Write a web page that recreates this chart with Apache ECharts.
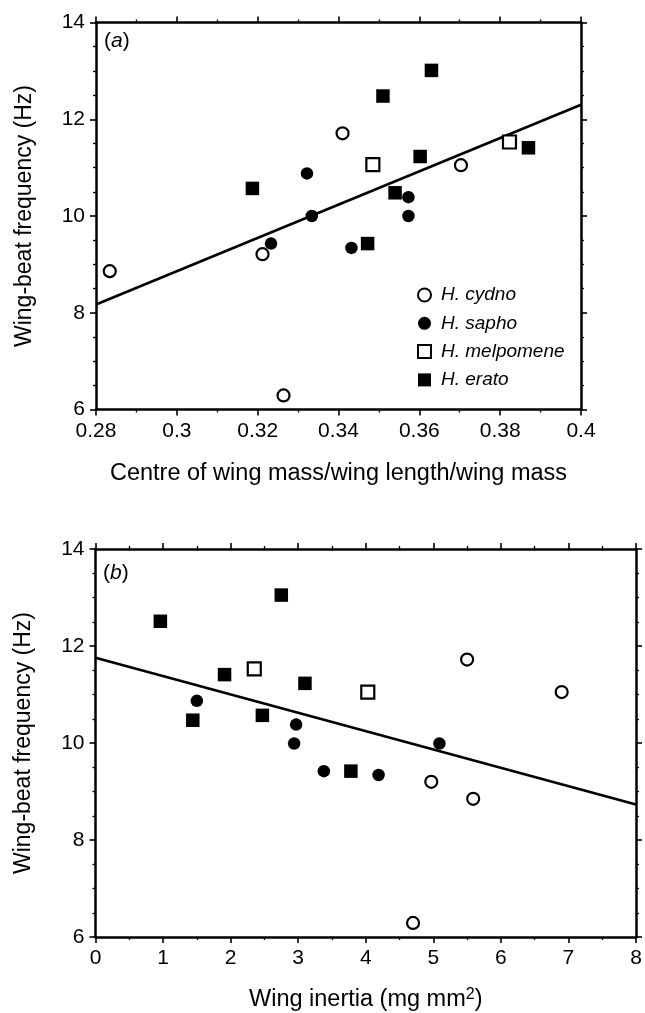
<!DOCTYPE html>
<html>
<head>
<meta charset="utf-8">
<script src="https://cdn.jsdelivr.net/npm/echarts@6/dist/echarts.min.js"></script>
<style>
html,body{margin:0;padding:0;background:#fff;}
#chart{width:645px;height:1013px;}
</style>
</head>
<body>
<div id="chart"></div>
<script>
// ---- Panel (a): centre of wing mass / wing length / wing mass ----
const cydnoA = [[0.2834,8.86],[0.3212,9.21],[0.341,11.71],[0.3703,11.05],[0.3264,6.29]];
const saphoA = [[0.3322,10.88],[0.3334,10.0],[0.3233,9.43],[0.3432,9.34],[0.3573,10.39],[0.3573,10.0]];
const melpomeneA = [[0.3485,11.06],[0.3823,11.53]];
const eratoA = [[0.3187,10.57],[0.351,12.48],[0.363,13.01],[0.3602,11.23],[0.354,10.48],[0.3472,9.43],[0.387,11.41]];
const fitA = [[0.28,8.17],[0.4,12.3]];

// ---- Panel (b): wing inertia ----
const cydnoB = [[5.5,11.72],[6.9,11.05],[4.97,9.2],[5.59,8.85],[4.7,6.29]];
const saphoB = [[1.5,10.87],[2.97,10.38],[2.94,9.99],[3.38,9.42],[4.19,9.34],[5.09,9.99]];
const melpomeneB = [[2.35,11.53],[4.03,11.05]];
const eratoB = [[0.96,12.51],[2.75,13.05],[1.91,11.41],[3.1,11.23],[1.44,10.47],[2.47,10.57],[3.78,9.42]];
const fitB = [[0,11.76],[8,8.73]];

const speciesNames = ['H. cydno','H. sapho','H. melpomene','H. erato'];
const xRangeA = [0.28, 0.4, 0.02];
const xRangeB = [0, 8, 1];
const yRange = [6, 14, 2];
const xTitleA = 'Centre of wing mass/wing length/wing mass';
const xTitleB = 'Wing inertia (mg mm{sup|2})';
const yTitle = 'Wing-beat frequency (Hz)';

const FONT = '"Liberation Sans", Arial, Helvetica, sans-serif';
const lineBlack = {color:'#000', width:2.5};

function axisCommon(showLabels){
  return {
    splitLine:{show:false},
    axisLine:{show:true, onZero:false, lineStyle:lineBlack},
    axisTick:{show:true, inside:false, length:6, lineStyle:{color:'#000', width:1.6}},
    minorTick:{show:true, length:3, lineStyle:{color:'#000', width:1.3}},
    axisLabel:{show:showLabels, color:'#000', fontSize:21, fontFamily:FONT, margin:11},
  };
}
function xAx(grid, r, pos, labels, minorSplit, name, nameGap){
  const a = Object.assign(axisCommon(labels), {
    type:'value', gridIndex:grid, position:pos, min:r[0], max:r[1], interval:r[2]
  });
  a.minorTick.splitNumber = minorSplit;
  if(name){
    a.name = name; a.nameLocation='middle'; a.nameGap=nameGap;
    a.nameTextStyle = {color:'#000', fontSize:23.5, fontFamily:FONT,
      rich:{sup:{fontSize:16, fontFamily:FONT, color:'#000', verticalAlign:'top', padding:[0,0,9,0]}}};
  }
  return a;
}
function yAx(grid, pos, labels, name){
  const a = Object.assign(axisCommon(labels), {
    type:'value', gridIndex:grid, position:pos, min:yRange[0], max:yRange[1], interval:yRange[2]
  });
  a.minorTick.splitNumber = 4;
  if(name){
    a.name = name; a.nameLocation='middle'; a.nameGap=60; a.nameRotate=90;
    a.nameTextStyle = {color:'#000', fontSize:23, fontFamily:FONT};
  }
  return a;
}

const hollow = {color:'#fff', borderColor:'#000', borderWidth:2.2, opacity:1};
const solid = {color:'#000', borderColor:'#000', borderWidth:0, opacity:1};
function sc(name, data, xi, yi, symbol, size, style){
  return {name, type:'scatter', data, xAxisIndex:xi, yAxisIndex:yi, symbol, symbolSize:size,
    itemStyle:style, z:3, silent:true};
}
function fit(data, xi, yi){
  return {type:'line', data, xAxisIndex:xi, yAxisIndex:yi, symbol:'none',
    lineStyle:{color:'#000', width:2.6}, z:2, silent:true};
}

const option = {
  animation:false,
  backgroundColor:'#fff',
  grid:[
    {left:96, top:22.5, width:485, height:387, containLabel:false},
    {left:95.5, top:549, width:540.5, height:388, containLabel:false}
  ],
  xAxis:[
    xAx(0, xRangeA, 'bottom', true, 2, xTitleA, 52),
    xAx(0, xRangeA, 'top', false, 2),
    xAx(1, xRangeB, 'bottom', true, 2, xTitleB, 50),
    xAx(1, xRangeB, 'top', false, 2)
  ],
  yAxis:[
    yAx(0, 'left', true, yTitle),
    yAx(0, 'right', false),
    yAx(1, 'left', true, yTitle),
    yAx(1, 'right', false)
  ],
  legend:{
    data:speciesNames, orient:'vertical', left:412, top:280,
    itemWidth:13, itemHeight:13, itemGap:8.3, selectedMode:false,
    textStyle:{color:'#000', fontSize:19, fontStyle:'italic', fontFamily:FONT, lineHeight:20, padding:[0,0,0,5]}
  },
  graphic:[
    {type:'text', left:104, top:31, style:{text:'{n|(}{i|a}{n|)}', rich:{
      n:{fontSize:21, fontFamily:FONT, fill:'#000'}, i:{fontSize:21, fontFamily:FONT, fontStyle:'italic', fill:'#000'}}}},
    {type:'text', left:103, top:563, style:{text:'{n|(}{i|b}{n|)}', rich:{
      n:{fontSize:21, fontFamily:FONT, fill:'#000'}, i:{fontSize:21, fontFamily:FONT, fontStyle:'italic', fill:'#000'}}}}
  ],
  series:[
    fit(fitA, 0, 0),
    sc(speciesNames[0], cydnoA, 0, 0, 'circle', 12, hollow),
    sc(speciesNames[1], saphoA, 0, 0, 'circle', 12.5, solid),
    sc(speciesNames[2], melpomeneA, 0, 0, 'rect', 13, hollow),
    sc(speciesNames[3], eratoA, 0, 0, 'rect', 13.5, solid),
    fit(fitB, 2, 2),
    sc(speciesNames[0], cydnoB, 2, 2, 'circle', 12, hollow),
    sc(speciesNames[1], saphoB, 2, 2, 'circle', 12.5, solid),
    sc(speciesNames[2], melpomeneB, 2, 2, 'rect', 13, hollow),
    sc(speciesNames[3], eratoB, 2, 2, 'rect', 13.5, solid)
  ]
};
const chart = echarts.init(document.getElementById('chart'), null, {renderer:'canvas'});
chart.setOption(option);
</script>
</body>
</html>
